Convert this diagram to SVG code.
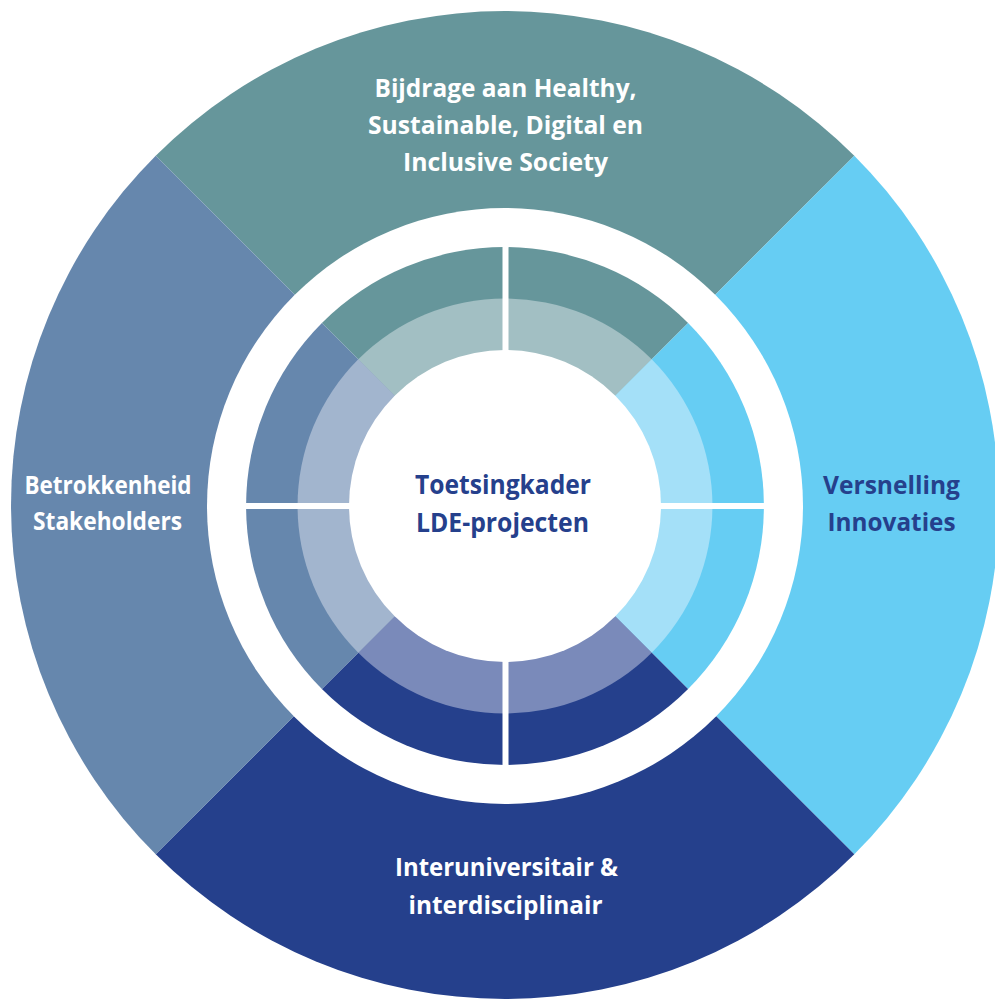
<svg xmlns="http://www.w3.org/2000/svg" width="995" height="999" viewBox="0 0 995 999">
  <style>
    .lbl { font-family: "Open Sans", "Noto Sans", "Liberation Sans", sans-serif; font-weight: 700; font-size: 25.5px; text-anchor: middle; }
    .w { fill: #ffffff; }
    .b { fill: #25408c; }
    .sep { stroke: #ffffff; stroke-width: 6; }
  </style>
  <rect width="995" height="999" fill="#ffffff"/>

  <g id="segment-top">
    <path d="M505,505 L155.7,155.7 A494,494 0 0 1 854.3,155.7 Z" fill="#66969b"/>
    <text class="lbl w"><tspan x="505.5" y="97" textLength="262" lengthAdjust="spacingAndGlyphs">Bijdrage aan Healthy,</tspan><tspan x="505.5" y="134" textLength="275" lengthAdjust="spacingAndGlyphs">Sustainable, Digital en</tspan><tspan x="505.5" y="171" textLength="205" lengthAdjust="spacingAndGlyphs">Inclusive Society</tspan></text>
  </g>

  <g id="segment-right">
    <path d="M505,505 L854.3,155.7 A494,494 0 0 1 854.3,854.3 Z" fill="#66cdf3"/>
    <text class="lbl b"><tspan x="891.5" y="494" textLength="137" lengthAdjust="spacingAndGlyphs">Versnelling</tspan><tspan x="891.5" y="531" textLength="128" lengthAdjust="spacingAndGlyphs">Innovaties</tspan></text>
  </g>

  <g id="segment-bottom">
    <path d="M505,505 L854.3,854.3 A494,494 0 0 1 155.7,854.3 Z" fill="#25408c"/>
    <text class="lbl w"><tspan x="506.5" y="876" textLength="223" lengthAdjust="spacingAndGlyphs">Interuniversitair &amp;</tspan><tspan x="505.5" y="914" textLength="194" lengthAdjust="spacingAndGlyphs">interdisciplinair</tspan></text>
  </g>

  <g id="segment-left">
    <path d="M505,505 L155.7,854.3 A494,494 0 0 1 155.7,155.7 Z" fill="#6687ad"/>
    <text class="lbl w"><tspan x="108" y="494" textLength="167" lengthAdjust="spacingAndGlyphs">Betrokkenheid</tspan><tspan x="107.5" y="530" textLength="149" lengthAdjust="spacingAndGlyphs">Stakeholders</tspan></text>
  </g>

  <circle cx="505" cy="506" r="298" fill="#ffffff"/>

  <g id="inner-ring">
    <path d="M505,506 L321.9,322.9 A259,259 0 0 1 688.1,322.9 Z" fill="#66969b"/>
    <path d="M505,506 L688.1,322.9 A259,259 0 0 1 688.1,689.1 Z" fill="#66cdf3"/>
    <path d="M505,506 L688.1,689.1 A259,259 0 0 1 321.9,689.1 Z" fill="#25408c"/>
    <path d="M505,506 L321.9,689.1 A259,259 0 0 1 321.9,322.9 Z" fill="#6687ad"/>
    <path d="M505,506 L358.3,359.3 A207.5,207.5 0 0 1 651.7,359.3 Z" fill="#a2bfc3"/>
    <path d="M505,506 L651.7,359.3 A207.5,207.5 0 0 1 651.7,652.7 Z" fill="#a4e0f8"/>
    <path d="M505,506 L651.7,652.7 A207.5,207.5 0 0 1 358.3,652.7 Z" fill="#7a8aba"/>
    <path d="M505,506 L358.3,652.7 A207.5,207.5 0 0 1 358.3,359.3 Z" fill="#a2b5ce"/>
    <line class="sep" x1="505.5" y1="230" x2="505.5" y2="782"/>
    <line class="sep" x1="229" y1="506" x2="781" y2="506"/>
  </g>

  <g id="center">
    <circle cx="505" cy="506" r="156" fill="#ffffff"/>
    <text class="lbl b" style="font-size:27px"><tspan x="503" y="494" textLength="176" lengthAdjust="spacingAndGlyphs">Toetsingkader</tspan><tspan x="502.5" y="532" textLength="173" lengthAdjust="spacingAndGlyphs">LDE-projecten</tspan></text>
  </g>

  <g id="connectors"></g>
</svg>
